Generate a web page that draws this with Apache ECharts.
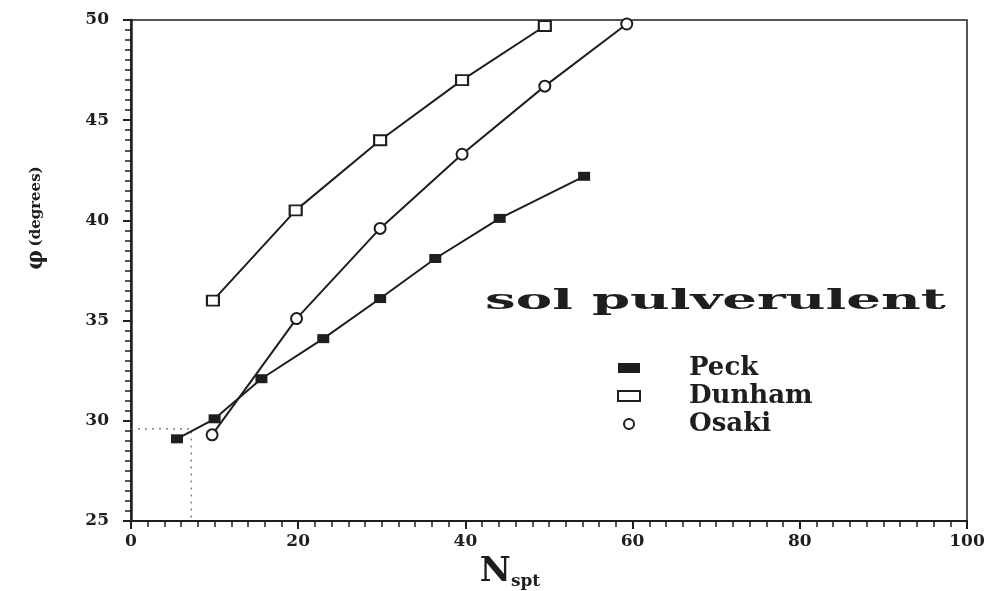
<!DOCTYPE html>
<html>
<head>
<meta charset="utf-8">
<title>phi vs Nspt</title>
<script src="https://cdn.jsdelivr.net/npm/echarts@6/dist/echarts.min.js"></script>
<style>
  html, body { margin: 0; padding: 0; background: #fff; }
  #chart { width: 998px; height: 591px; }
</style>
</head>
<body>
<div id="chart"></div>
<script>
// values: N_spt on x, friction angle (degrees) on y
const peckN = [5.5, 10, 15.6, 23, 29.8, 36.4, 44.1, 54.2]
const peckPhi = [29.1, 30.1, 32.1, 34.1, 36.1, 38.1, 40.1, 42.2]
const dunhamN = [9.8, 19.7, 29.8, 39.6, 49.5]
const dunhamPhi = [36.0, 40.5, 44.0, 47.0, 49.7]
const osakiN = [9.7, 19.8, 29.8, 39.6, 49.5, 59.3]
const osakiPhi = [29.3, 35.1, 39.6, 43.3, 46.7, 49.8]
// dotted reading guide near the origin
const guideN = [0, 7.2, 7.2]
const guidePhi = [29.6, 29.6, 25]
const seriesNames = ['Peck', 'Dunham', 'Osaki']
const xTicks = [0, 20, 40, 60, 80, 100]
const yTicks = [25, 30, 35, 40, 45, 50]

const ink = '#1e1e1e'
const serif = '"DejaVu Serif", "Liberation Serif", serif'

function pairs(xs, ys) {
  return xs.map((x, i) => [x, ys[i]])
}

const chart = echarts.init(document.getElementById('chart'))

const hollow = { color: '#fff', borderColor: ink, borderWidth: 2 }

const option = {
  animation: false,
  backgroundColor: '#fff',
  grid: {
    left: 131, right: 31, top: 20, bottom: 70,
    show: true, borderColor: ink, borderWidth: 1.5, backgroundColor: '#fff'
  },
  xAxis: {
    type: 'value',
    min: xTicks[0],
    max: xTicks[xTicks.length - 1],
    interval: xTicks[1] - xTicks[0],
    axisLine: { show: true, lineStyle: { color: ink, width: 2 } },
    axisTick: { show: true, inside: false, length: 8, lineStyle: { color: ink, width: 2 } },
    minorTick: { show: true, splitNumber: 10, length: 6, lineStyle: { color: ink, width: 1.5 } },
    splitLine: { show: false },
    axisLabel: { margin: 12, color: ink, fontFamily: serif, fontWeight: 'bold', fontSize: 17 }
  },
  yAxis: {
    type: 'value',
    min: yTicks[0],
    max: yTicks[yTicks.length - 1],
    interval: yTicks[1] - yTicks[0],
    axisLine: { show: true, lineStyle: { color: ink, width: 2.5 } },
    axisTick: { show: true, inside: false, length: 8, lineStyle: { color: ink, width: 2 } },
    minorTick: { show: true, splitNumber: 10, length: 6, lineStyle: { color: ink, width: 1.5 } },
    splitLine: { show: false },
    axisLabel: { margin: 22, color: ink, fontFamily: serif, fontWeight: 'bold', fontSize: 17 }
  },
  legend: {
    orient: 'vertical',
    left: 612,
    top: 350,
    itemWidth: 22,
    itemHeight: 10,
    itemGap: 2,
    data: [
      { name: seriesNames[0], icon: 'rect' },
      { name: seriesNames[1], icon: 'rect', itemStyle: hollow },
      { name: seriesNames[2], icon: 'circle', itemStyle: hollow }
    ],
    textStyle: {
      color: ink, fontFamily: serif, fontWeight: 'bold', fontSize: 26,
      padding: [0, 0, 10, 44]
    }
  },
  graphic: [
    {
      type: 'text',
      x: 485, y: 302,
      scaleX: 1.95,
      style: {
        text: 'sol pulverulent',
        font: 'bold 28px ' + serif,
        fill: ink,
        align: 'left',
        verticalAlign: 'middle'
      }
    },
    {
      type: 'text',
      x: 36, y: 218,
      rotation: Math.PI / 2,
      style: {
        text: '{a|φ} {b|(degrees)}',
        align: 'center',
        verticalAlign: 'middle',
        rich: {
          a: { font: 'bold 22px ' + serif, fill: ink },
          b: { font: 'bold 15px ' + serif, fill: ink }
        }
      }
    },
    {
      type: 'text',
      x: 510, y: 572,
      style: {
        text: '{n|N}{s|spt}',
        align: 'center',
        verticalAlign: 'middle',
        rich: {
          n: { font: 'bold 34px ' + serif, fill: ink, lineHeight: 36 },
          s: { font: 'bold 17px ' + serif, fill: ink, verticalAlign: 'bottom', lineHeight: 36 }
        }
      }
    }
  ],
  series: [
    {
      name: seriesNames[0],
      type: 'line',
      data: pairs(peckN, peckPhi),
      symbol: 'rect',
      symbolSize: [12, 9],
      itemStyle: { color: ink },
      lineStyle: { color: ink, width: 2 }
    },
    {
      name: seriesNames[1],
      type: 'line',
      data: pairs(dunhamN, dunhamPhi),
      symbol: 'rect',
      symbolSize: [12, 10],
      itemStyle: hollow,
      lineStyle: { color: ink, width: 2 }
    },
    {
      name: seriesNames[2],
      type: 'line',
      data: pairs(osakiN, osakiPhi),
      symbol: 'circle',
      symbolSize: 11,
      itemStyle: hollow,
      lineStyle: { color: ink, width: 2 }
    },
    {
      name: 'guide',
      type: 'line',
      data: pairs(guideN, guidePhi),
      symbol: 'none',
      silent: true,
      lineStyle: { color: '#666', width: 1.2, type: [2, 5] },
      z: 1
    }
  ]
}

chart.setOption(option)
</script>
</body>
</html>
